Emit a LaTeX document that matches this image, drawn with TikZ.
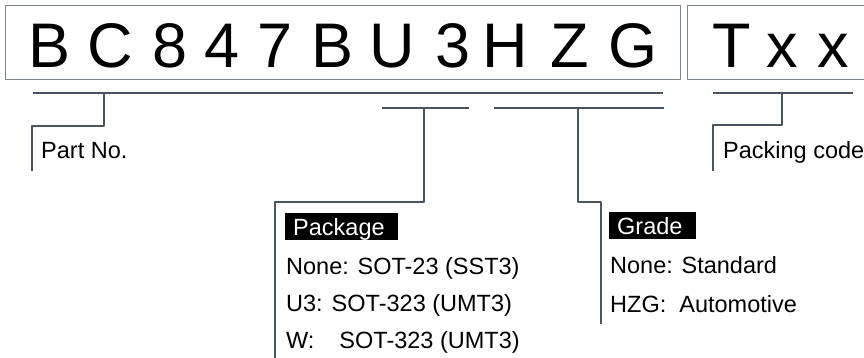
\documentclass[tikz,border=0pt]{standalone}
\usepackage{fontspec}
\setmainfont{Liberation Sans}
\definecolor{linegray}{HTML}{4B5560}
\definecolor{framegray}{HTML}{7D858C}
\begin{document}
\begin{tikzpicture}[x=1pt,y=-1pt,line join=round,font=\fontsize{23.5}{28}\selectfont]
\tikzset{frame/.style={draw=framegray,line width=0.9pt},
  brace/.style={draw=linegray,line width=2pt},
  tag/.style={fill=black,text=white,anchor=north west,minimum height=27pt,
    text height=16.8pt,text depth=0pt,inner xsep=8pt,align=left},
  item/.style={anchor=base west,inner sep=0pt}}
\useasboundingbox (0,0) rectangle (864,357);
% number frames
\draw[frame] (5,5) rectangle (680,79);
\draw[frame] (866,5) -- (687,5) -- (687,79) -- (866,79);
\foreach \x/\c [count=\i] in {49.5/B,110.5/C,170/8,222/4,275/7,333/B,392/U,453/3,505/H,570/Z,633/G,732/T,782/x,833/x}
\node[anchor=base,inner sep=0pt,font=\fontsize{63}{70}\selectfont] (c\i) at (\x,67) {\c};
% labels
\node[item] (part) at (41,158) {Part No.};
\node[item] (pack) at (723,158) {Packing code};
\node[tag,text width=97pt] (pkg) at (285,213) {Package};
\node[item] (p1) at (286,274) {None: SOT-23 (SST3)};
\node[item] (p2) at (286,311) {U3:\hspace{9pt}SOT-323 (UMT3)};
\node[item] (p3) at (286,348) {W:\hspace{25pt}SOT-323 (UMT3)};
\node[tag,text width=71pt] (grd) at (609,212) {Grade};
\node[item] (g1) at (610,273) {None: Standard};
\node[item] (g2) at (610,312) {HZG:\hspace{13pt}Automotive};
% brackets
\coordinate (partK) at (104,93);
\coordinate (pkgK) at (424,108);
\coordinate (grdK) at (578,108);
\coordinate (packK) at (782,93);
\draw[brace] (33,93) -- (663,93);
\draw[brace] (382,108) -- (469,108);
\draw[brace] (494,108) -- (664,108);
\draw[brace] (713,93) -- (853,93);
\draw[brace] (partK) |- (32,126) -- (32,171);
\draw[brace] (pkgK) |- (275,202) -- (275,358);
\draw[brace] (grdK) |- (601,202) -- (601,324);
\draw[brace] (packK) |- (713,125) -- (713,171);
\end{tikzpicture}
\end{document}
